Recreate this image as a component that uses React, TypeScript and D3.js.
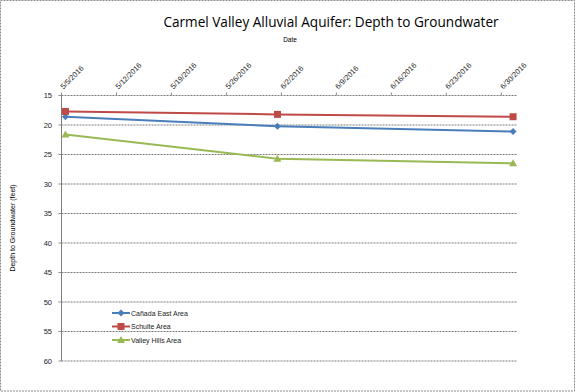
import React from "react"
import * as d3 from "d3"

// depth to groundwater (feet) by monitoring area
const dates = ["2016-05-05", "2016-06-01", "2016-07-01"]
const seriesNames = ["Cañada East Area", "Schulte Area", "Valley Hills Area"]
const canadaEast = [18.6, 20.2, 21.1]
const schulte = [17.7, 18.2, 18.6]
const valleyHills = [21.6, 25.7, 26.5]
const tickDates = ["5/5/2016", "5/12/2016", "5/19/2016", "5/26/2016", "6/2/2016", "6/9/2016", "6/16/2016", "6/23/2016", "6/30/2016"]
const yTicks = [15, 20, 25, 30, 35, 40, 45, 50, 55, 60]

const W = 576
const H = 392
const left = 61.5
const right = 517
const top = 95.5
const bottom = 361

const parseIso = d3.timeParse("%Y-%m-%d")
const parseUs = d3.timeParse("%m/%d/%Y")
const colors = ["#4a7ebb", "#be4b48", "#98b954"]
const font = "Liberation Sans, Arial, sans-serif"

export default function App() {
  const x = d3.scaleTime()
    .domain([parseIso("2016-05-05")!, parseIso("2016-07-02")!])
    .range([left, right])
  const y = d3.scaleLinear().domain([15, 60]).range([top, bottom])

  // excel centres each point in its day bin
  const px = (d: string) => x(d3.timeHour.offset(parseIso(d)!, 12))

  const all = [canadaEast, schulte, valleyHills]
  const line = d3.line<[number, number]>().x(d => d[0]).y(d => d[1])

  const marker = (i: number, cx: number, cy: number, key: string) => {
    const c = colors[i]
    if (i === 0) {
      return <path key={key} d={`M${cx},${cy - 3.5}L${cx + 3.5},${cy}L${cx},${cy + 3.5}L${cx - 3.5},${cy}Z`} fill={c} />
    }
    if (i === 1) {
      return <rect key={key} x={cx - 3.5} y={cy - 3.5} width={7} height={7} fill={c} />
    }
    return <path key={key} d={`M${cx},${cy - 4}L${cx + 4},${cy + 3}L${cx - 4},${cy + 3}Z`} fill={c} />
  }

  return (
    <svg width={W} height={H} style={{ position: "absolute", left: 0, top: 0 }} fontFamily={font}>
      <rect x={0} y={0} width={W} height={H} fill="#fff" />
      <rect x={0.5} y={0.5} width={W - 2} height={H - 1.5} fill="none" stroke="#8c8c8c" strokeDasharray="2,1" />

      <text x={331} y={27} textAnchor="middle" fontSize={13.6} fill="#000" fontFamily="Open Sans, sans-serif" fontWeight={500}>
        Carmel Valley Alluvial Aquifer: Depth to Groundwater
      </text>
      <text x={290} y={42} textAnchor="middle" fontSize={6.5} fill="#000">Date</text>
      <text transform={`translate(15,228) rotate(-90)`} textAnchor="middle" fontSize={7} fill="#000">
        Depth to Groundwater (feet)
      </text>

      {/* gridlines */}
      {yTicks.map(t => (
        <g key={t}>
          <line x1={left} x2={right} y1={y(t)} y2={y(t)} stroke="#7a7a7a" strokeDasharray="2,1" />
          <line x1={left - 3} x2={left} y1={y(t)} y2={y(t)} stroke="#8a8a8a" />
          <text x={52} y={y(t) + 2.5} textAnchor="end" fontSize={7.5} fill="#222">{t}</text>
        </g>
      ))}
      <line x1={left} x2={left} y1={top} y2={bottom} stroke="#7f7f7f" />

      {/* top date axis */}
      {tickDates.map(t => {
        const tx = x(parseUs(t)!)
        return (
          <g key={t}>
            <line x1={tx} x2={tx} y1={top} y2={top - 3} stroke="#8a8a8a" />
            <text transform={`translate(${tx + 2},${top - 6}) rotate(-45)`} fontSize={7.5} fill="#222">{t}</text>
          </g>
        )
      })}

      {/* series */}
      {all.map((vals, i) => {
        const pts = vals.map((v, j) => [px(dates[j]), y(v)] as [number, number])
        return (
          <g key={seriesNames[i]}>
            <path d={line(pts)!} fill="none" stroke={colors[i]} strokeWidth={2} />
            {pts.map((p, j) => marker(i, p[0], p[1], `${i}-${j}`))}
          </g>
        )
      })}

      {/* legend */}
      {seriesNames.map((name, i) => {
        const ly = 313 + i * 13.5
        return (
          <g key={name}>
            <line x1={112} x2={130} y1={ly} y2={ly} stroke={colors[i]} strokeWidth={2} />
            {marker(i, 121, ly, `lg-${i}`)}
            <text x={131} y={ly + 2.5} fontSize={7} fill="#222">{name}</text>
          </g>
        )
      })}
    </svg>
  )
}
